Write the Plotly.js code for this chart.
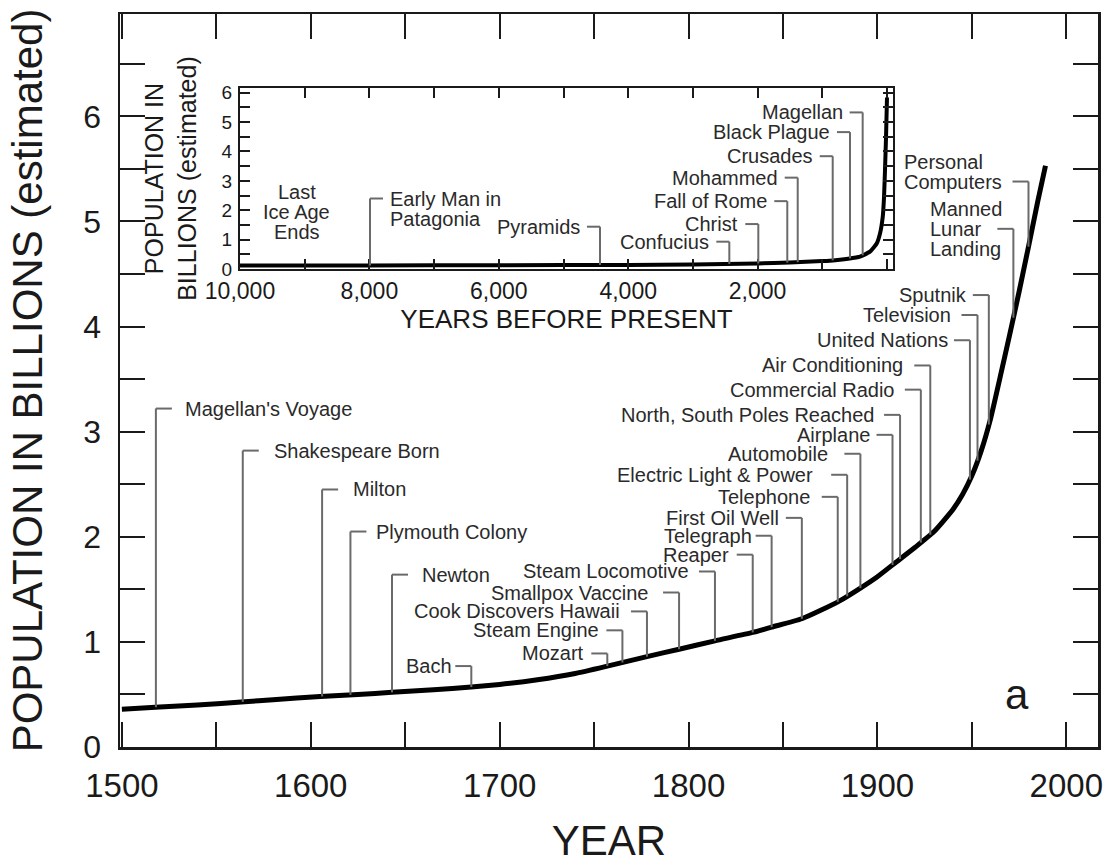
<!DOCTYPE html>
<html><head><meta charset="utf-8">
<script src="https://cdn.plot.ly/plotly-3.0.1.min.js"></script>
<style>html,body{margin:0;padding:0;background:#fff}#chart{width:1116px;height:864px}</style>
</head><body><div id="chart"></div>
<script>
// ---------- DATA ----------
// Main chart: world population (billions) by year
const mainYears = [1500,1520,1540,1565,1580,1605,1625,1643,1665,1685,1700,1720,1740,1757,1778,1795,1814,1834,1844,1860,1870,1880,1890,1900,1910,1920,1930,1940,1945,1950,1955,1960,1965,1970,1975,1980,1985,1989];
const mainPop   = [0.36,0.38,0.40,0.43,0.45,0.48,0.50,0.52,0.545,0.57,0.595,0.64,0.70,0.77,0.86,0.93,1.01,1.09,1.14,1.22,1.30,1.39,1.50,1.62,1.76,1.90,2.05,2.26,2.40,2.58,2.82,3.13,3.52,3.92,4.33,4.76,5.20,5.53];

// Main chart events
const eventNames  = ["Magellan's Voyage","Shakespeare Born","Milton","Plymouth Colony","Newton","Bach","Mozart","Steam Engine","Cook Discovers Hawaii","Smallpox Vaccine","Steam Locomotive","Reaper","Telegraph","First Oil Well","Telephone","Electric Light & Power","Automobile","Airplane","North, South Poles Reached","Commercial Radio","Air Conditioning","United Nations","Television","Sputnik","Manned|Lunar|Landing","Personal|Computers"];
const eventYears  = [1518,1564,1606,1621,1643,1685,1757,1765,1778,1795,1814,1834,1844,1860,1879,1884,1891,1908,1912,1923,1928,1949,1953,1959,1972,1980];
const eventLevels = [3.22,2.82,2.45,2.05,1.64,0.77,0.89,1.11,1.29,1.47,1.67,1.83,2.01,2.18,2.38,2.59,2.79,2.97,3.16,3.40,3.63,3.87,4.11,4.30,4.93,5.38];
const eventSide   = ["R","R","R","R","R","L","L","L","L","L","L","L","L","L","L","L","L","L","L","L","L","L","L","L","L","L"];
const eventAttach = [0,0,0,0,0,0,0,0,0,0,0,0,0,0,0,0,0,0,0,0,0,0,0,0,1,1];

// Inset: population vs years before present
const bpYears = [10000,8000,6000,4000,3000,2000,1500,1000,800,600,417,263,159,108,66,46,31,15,0];
const bpPop   = [0.12,0.12,0.13,0.14,0.15,0.19,0.22,0.27,0.30,0.35,0.42,0.59,0.87,1.21,1.77,2.45,3.36,4.48,5.84];

// Inset events
const insetNames  = ["Early Man in|Patagonia","Pyramids","Confucius","Christ","Fall of Rome","Mohammed","Crusades","Black Plague","Magellan"];
const insetBP     = [7991,4436,2437,1989,1541,1380,839,572,376];
const insetLevels = [2.40,1.44,0.93,1.53,2.31,3.11,3.84,4.66,5.33];
const insetSide   = ["R","L","L","L","L","L","L","L","L"];
const insetNote   = "Last|Ice Age|Ends";
const insetNoteBP = 9124;
const insetNoteLevel = 1.94;

// Tick labels
const mainXTicks = [1500,1550,1600,1650,1700,1750,1800,1850,1900,1950,2000];
const mainXText  = ["1500","","1600","","1700","","1800","","1900","","2000"];
const mainYTicks = [0,0.5,1,1.5,2,2.5,3,3.5,4,4.5,5,5.5,6,6.5];
const mainYText  = ["0","","1","","2","","3","","4","","5","","6",""];
const insetXTicks = [10000,9000,8000,7000,6000,5000,4000,3000,2000,1000,0];
const insetXText  = ["10,000","","8,000","","6,000","","4,000","","2,000","",""];
const insetYTicks = [0,0.5,1,1.5,2,2.5,3,3.5,4,4.5,5,5.5,6];
const insetYText  = ["0","","1","","2","","3","","4","","5","","6"];

// ---------- STYLE ----------
const FONT = '"Liberation Sans", Arial, Helvetica, sans-serif';
const INK = '#1a1a1a';
const LEAD = '#6a6a6a';
const LBL = 20;          // label font size
const LH = 20;           // label line spacing (px)
const mainGap = [28,30,30,25,29,18,22,22,26,30,25,23,19,22,27,33,31,22,24,25,26,21,26,21,6,21];
const mainSeg = 16, insetGap = 19, insetSeg = 13;

// ---------- helpers ----------
function interp(xs, ys, x){
  for (let i=0;i<xs.length-1;i++){
    const a=xs[i], b=xs[i+1];
    if ((x>=a && x<=b) || (x<=a && x>=b)){
      const t=(x-a)/(b-a); return ys[i]+t*(ys[i+1]-ys[i]);
    }
  }
  return ys[ys.length-1];
}
const cv = document.createElement('canvas').getContext('2d');
function tw(s){ cv.font = LBL + 'px "Liberation Sans"'; return cv.measureText(s).width; }

const shapes = [], annotations = [];
function addEvent(name, xv, lvl, side, attach, gap, seg, xref, yref, xs, ys){
  const base = interp(xs, ys, xv);
  shapes.push({type:'line', xref, yref, x0:xv, x1:xv, y0:base, y1:lvl, line:{color:LEAD, width:2}});
  shapes.push({type:'line', xref, yref, xsizemode:'pixel', xanchor:xv, x0:0, x1:(side==='R'?seg:-seg), y0:lvl, y1:lvl, line:{color:LEAD, width:2}});
  const lines = name.split('|');
  const w = Math.max(...lines.map(tw)) + 4;
  lines.forEach((ln, i) => {
    const a = {text:ln, x:xv, y:lvl, xref, yref, showarrow:false, yanchor:'middle',
      xanchor: side==='R' ? 'left' : 'right', xshift: side==='R' ? gap : -gap,
      yshift: (attach - i) * LH, font:{family:FONT, size:LBL, color:'#2a2a2a'}, borderpad:0};
    if (lines.length > 1){ a.width = w; a.align = 'left'; }
    annotations.push(a);
  });
}
eventNames.forEach((n,i)=>addEvent(n, eventYears[i], eventLevels[i], eventSide[i], eventAttach[i], mainGap[i], mainSeg, 'x', 'y', mainYears, mainPop));
insetNames.forEach((n,i)=>addEvent(n, insetBP[i], insetLevels[i], insetSide[i], 0, insetGap, insetSeg, 'x2', 'y2', bpYears, bpPop));
insetNote.split('|').forEach((ln,i,arr)=>{
  annotations.push({text:ln, x:insetNoteBP, y:insetNoteLevel, xref:'x2', yref:'y2', showarrow:false,
    xanchor:'center', yanchor:'middle', yshift:((arr.length-1)/2 - i)*LH, font:{family:FONT, size:LBL, color:'#2a2a2a'}});
});
annotations.push({text:'a', x:1974, y:0.50, xref:'x', yref:'y', showarrow:false, xanchor:'center', yanchor:'middle', font:{family:FONT, size:42, color:INK}});

const traces = [
  {x:mainYears, y:mainPop, type:'scatter', mode:'lines', line:{color:'#000', width:5, shape:'spline', smoothing:0.5}, xaxis:'x', yaxis:'y', hoverinfo:'skip'},
  {x:bpYears, y:bpPop, type:'scatter', mode:'lines', line:{color:'#000', width:4, shape:'spline', smoothing:0.4}, xaxis:'x2', yaxis:'y2', hoverinfo:'skip'}
];

const axCommon = {showgrid:false, zeroline:false, showline:true, linecolor:INK, mirror:'ticks', ticks:'inside', tickcolor:INK};
const layout = {
  width:1116, height:864, showlegend:false,
  paper_bgcolor:'#fff', plot_bgcolor:'#fff',
  font:{family:FONT, color:INK},
  margin:{l:120, r:18, t:14, b:117},
  xaxis:Object.assign({}, axCommon, {domain:[0,1], anchor:'y', range:[1499,2016.8], tickmode:'array', tickvals:mainXTicks, ticktext:mainXText,
    ticklen:25, tickwidth:2, linewidth:2.5, tickfont:{size:33, color:INK}, ticklabelstandoff:8,
    title:{text:'YEAR', font:{size:42, color:INK}, standoff:26}}),
  yaxis:Object.assign({}, axCommon, {domain:[0,1], anchor:'x', range:[0,6.974], tickmode:'array', tickvals:mainYTicks, ticktext:mainYText,
    ticklen:25, tickwidth:2, linewidth:2.5, tickfont:{size:32, color:INK}, ticklabelstandoff:10,
    title:{text:'POPULATION IN BILLIONS (estimated)', font:{size:42, color:INK}, standoff:28}}),
  xaxis2:Object.assign({}, axCommon, {domain:[0.1227,0.7904], anchor:'y2', range:[10000,-93], tickmode:'array', tickvals:insetXTicks, ticktext:insetXText,
    ticklen:10, tickwidth:2, linewidth:2, tickfont:{size:23, color:INK}, ticklabelstandoff:0,
    title:{text:'YEARS BEFORE PRESENT', font:{size:26, color:INK}, standoff:2}}),
  yaxis2:Object.assign({}, axCommon, {domain:[0.6521,0.8990], anchor:'x2', range:[0,6.16], tickmode:'array', tickvals:insetYTicks, ticktext:insetYText,
    ticklen:10, tickwidth:2, linewidth:2, tickfont:{size:19, color:INK}, ticklabelstandoff:2,
    title:{text:'POPULATION IN<br>BILLIONS (estimated)', font:{size:25, color:INK}, standoff:18}}),
  shapes, annotations
};
Plotly.newPlot('chart', traces, layout, {staticPlot:true, displayModeBar:false});
</script></body></html>
